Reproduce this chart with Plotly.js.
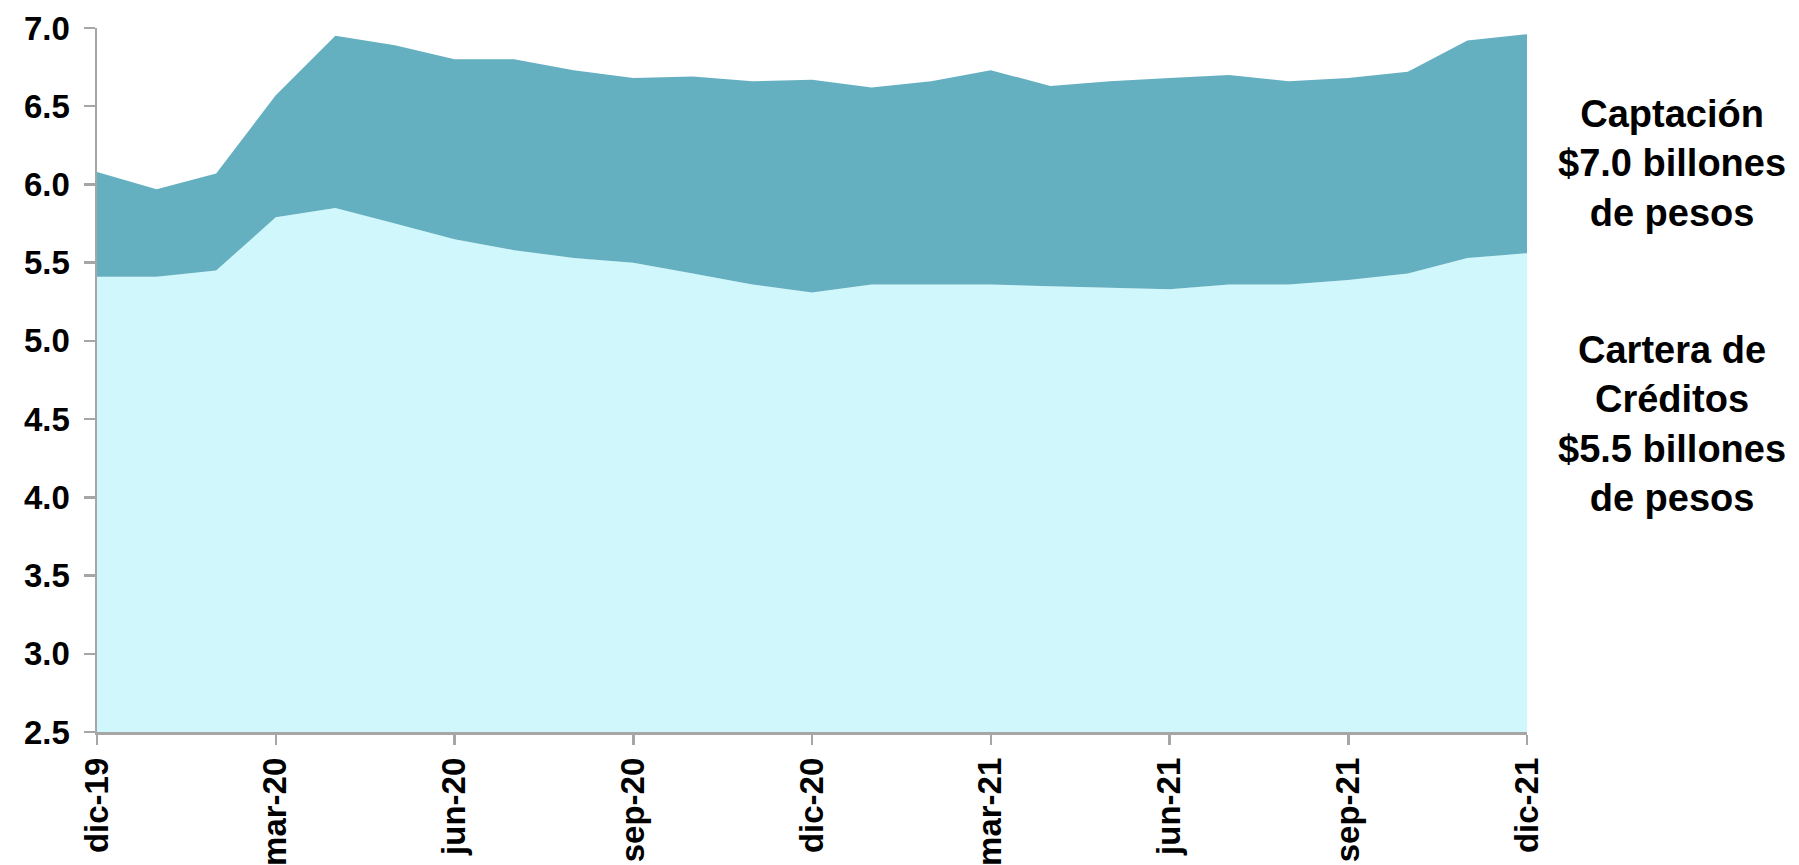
<!DOCTYPE html>
<html>
<head>
<meta charset="utf-8">
<script src="https://cdn.plot.ly/plotly-3.0.1.min.js"></script>
<style>
html,body{margin:0;padding:0;background:#fff;}
#chart{width:1799px;height:865px;}
</style>
</head>
<body>
<div id="chart"></div>
<script>
const months = ["dic-19","ene-20","feb-20","mar-20","abr-20","may-20","jun-20","jul-20","ago-20","sep-20","oct-20","nov-20","dic-20","ene-21","feb-21","mar-21","abr-21","may-21","jun-21","jul-21","ago-21","sep-21","oct-21","nov-21","dic-21"];
const captacion = [6.08, 5.97, 6.07, 6.57, 6.95, 6.89, 6.80, 6.80, 6.73, 6.68, 6.69, 6.66, 6.67, 6.62, 6.66, 6.73, 6.63, 6.66, 6.68, 6.70, 6.66, 6.68, 6.72, 6.92, 6.96];
const cartera = [5.41, 5.41, 5.45, 5.79, 5.85, 5.75, 5.65, 5.58, 5.53, 5.50, 5.43, 5.36, 5.31, 5.36, 5.36, 5.36, 5.35, 5.34, 5.33, 5.36, 5.36, 5.39, 5.43, 5.53, 5.56];
const xTickLabels = ["dic-19","mar-20","jun-20","sep-20","dic-20","mar-21","jun-21","sep-21","dic-21"];
const yTicks = [2.5, 3.0, 3.5, 4.0, 4.5, 5.0, 5.5, 6.0, 6.5, 7.0];
const labelCaptacion = "Captación<br>$7.0 billones<br>de pesos";
const labelCartera = "Cartera de<br>Créditos<br>$5.5 billones<br>de pesos";

const fontFam = "Liberation Sans, Arial, sans-serif";

const traces = [
  {x: months, y: cartera, type: "scatter", mode: "none", fill: "tozeroy",
   fillcolor: "#d0f8fc", name: "Cartera de Créditos", hoverinfo: "x+y"},
  {x: months, y: captacion, type: "scatter", mode: "none", fill: "tonexty",
   fillcolor: "#64b0c1", name: "Captación", hoverinfo: "x+y"}
];

const layout = {
  width: 1799, height: 865,
  margin: {l: 97, r: 272, t: 28, b: 133},
  paper_bgcolor: "#ffffff", plot_bgcolor: "#ffffff",
  showlegend: false,
  font: {family: fontFam, color: "#000"},
  xaxis: {
    type: "category",
    range: [0, months.length - 1],
    tickmode: "array", tickvals: xTickLabels, ticktext: xTickLabels,
    tickangle: -90,
    tickfont: {family: fontFam, size: 33, weight: 700, color: "#000"},
    showgrid: false, zeroline: false,
    showline: true, linecolor: "#a6a6a6", linewidth: 2.5,
    ticks: "outside", ticklen: 10, tickwidth: 2.5, tickcolor: "#a6a6a6",
    fixedrange: true
  },
  yaxis: {
    range: [2.5, 7.0],
    tickmode: "array", tickvals: yTicks,
    ticktext: yTicks.map(v => v.toFixed(1)),
    tickfont: {family: fontFam, size: 33, weight: 700, color: "#000"},
    showgrid: false, zeroline: false,
    showline: true, linecolor: "#a6a6a6", linewidth: 2.5,
    ticks: "outside", ticklen: 11, tickwidth: 2.5, tickcolor: "#a6a6a6",
    ticklabelstandoff: 7,
    fixedrange: true
  },
  annotations: [
    {xref: "paper", yref: "paper", x: 1.1013, y: 0.8075, text: labelCaptacion,
     showarrow: false, align: "center", xanchor: "center", yanchor: "middle",
     font: {family: fontFam, size: 38, weight: 700, color: "#000"}},
    {xref: "paper", yref: "paper", x: 1.1013, y: 0.4375, text: labelCartera,
     showarrow: false, align: "center", xanchor: "center", yanchor: "middle",
     font: {family: fontFam, size: 38, weight: 700, color: "#000"}}
  ]
};

Plotly.newPlot("chart", traces, layout, {displayModeBar: false, staticPlot: true});
</script>
</body>
</html>
